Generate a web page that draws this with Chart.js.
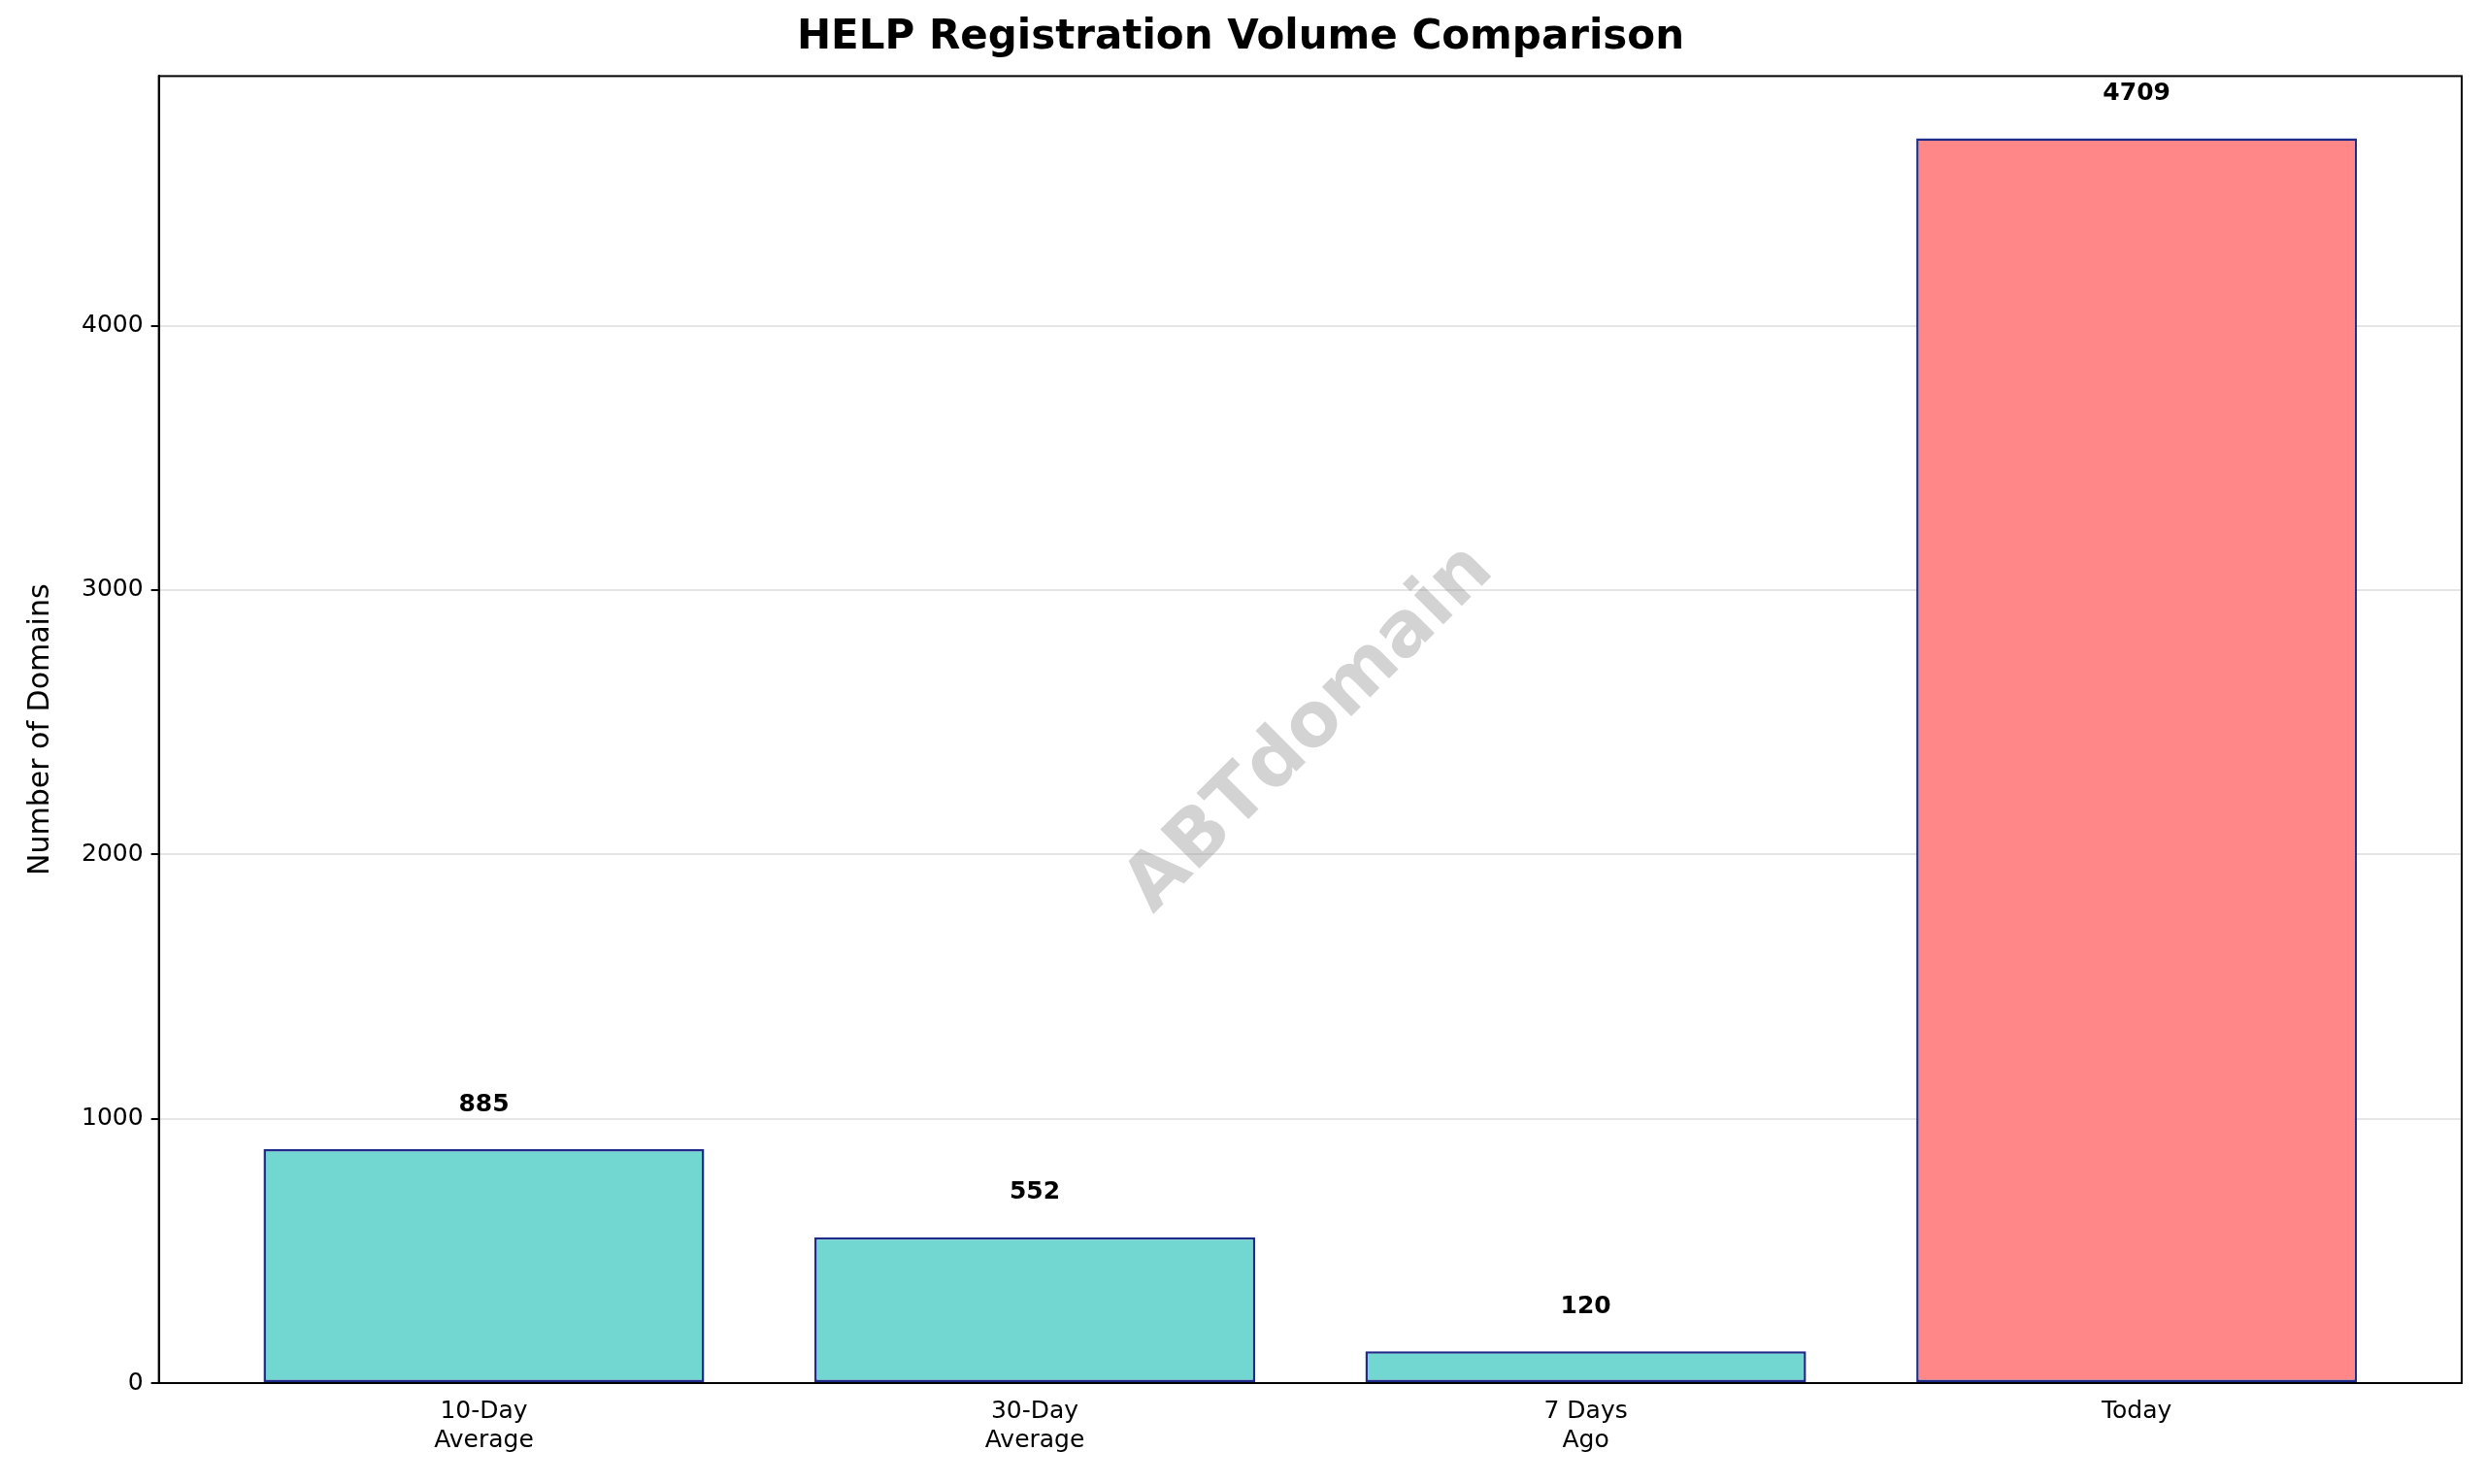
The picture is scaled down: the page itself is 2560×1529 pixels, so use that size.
<!DOCTYPE html>
<html>
<head>
<meta charset="utf-8">
<script src="https://cdn.jsdelivr.net/npm/chart.js@4"></script>
<style>
  body { margin: 0; background: #fff; }
  #wrap { width: 2560px; height: 1529px; }
</style>
</head>
<body>
<div id="wrap"><canvas id="c" width="2560" height="1529"></canvas></div>
<script>
const categories = [['10-Day', 'Average'], ['30-Day', 'Average'], ['7 Days', 'Ago'], ['Today']]
const values = [885, 552, 120, 4709]
const colors = ['#73d7d1', '#73d7d1', '#73d7d1', '#ff8787']
const yTicks = [0, 1000, 2000, 3000, 4000]

const FONT = 'DejaVu Sans'

// value labels above bars + watermark + frame
const extras = {
  id: 'extras',
  afterDatasetsDraw(chart) {
    const ctx = chart.ctx, a = chart.chartArea
    const xs = chart.scales.x, ys = chart.scales.y
    ctx.save()
    ctx.translate((a.left + a.right) / 2, (a.top + a.bottom) / 2)
    ctx.rotate(-Math.PI / 4)
    ctx.fillStyle = 'rgba(128,128,128,0.35)'
    ctx.font = 'bold 78px ' + FONT
    ctx.textAlign = 'center'
    ctx.textBaseline = 'middle'
    ctx.fillText('ABTdomain', 0, 0)
    ctx.restore()

    ctx.save()
    ctx.fillStyle = '#000'
    ctx.font = 'bold 25px ' + FONT
    ctx.textAlign = 'center'
    ctx.textBaseline = 'bottom'
    values.forEach((v, i) => {
      ctx.fillText(String(v), xs.getPixelForValue(i), ys.getPixelForValue(v + 100) - 6)
    })
    ctx.strokeStyle = '#000'
    ctx.lineWidth = 2
    ctx.strokeRect(a.left, a.top, a.right - a.left, a.bottom - a.top)
    ctx.restore()
  }
}

new Chart(document.getElementById('c'), {
  type: 'bar',
  data: {
    datasets: [{
      data: values.map((v, i) => ({ x: i, y: v })),
      backgroundColor: colors,
      borderColor: '#1f2a8a',
      borderWidth: 2.5,
      borderSkipped: false,
      barPercentage: 0.8,
      categoryPercentage: 1
    }]
  },
  plugins: [extras],
  options: {
    responsive: false,
    animation: false,
    devicePixelRatio: 1,
    layout: { padding: { left: 20, right: 24, top: 14, bottom: 24 } },
    plugins: {
      legend: { display: false },
      tooltip: { enabled: false },
      title: {
        display: true,
        text: 'HELP Registration Volume Comparison',
        color: '#000',
        font: { family: FONT, size: 42, weight: 'bold' },
        padding: { top: 0, bottom: 14 }
      }
    },
    scales: {
      x: {
        type: 'linear',
        offset: false,
        min: -0.59, max: 3.59,
        afterBuildTicks: s => { s.ticks = categories.map((c, i) => ({ value: i })) },
        ticks: {
          callback: v => categories[v],
          color: '#000',
          font: { family: FONT, size: 25 },
          maxRotation: 0,
          padding: 6
        },
        grid: { display: false, drawTicks: true, tickLength: 8, tickColor: '#000' },
        border: { color: '#000', width: 2 }
      },
      y: {
        min: 0, max: 4944,
        afterBuildTicks: s => { s.ticks = yTicks.map(v => ({ value: v })) },
        ticks: { callback: v => String(v), color: '#000', font: { family: FONT, size: 25 }, padding: 8 },
        grid: { color: 'rgba(0,0,0,0.1)', lineWidth: 2, tickLength: 8, tickColor: '#000' },
        border: { color: '#000', width: 2 },
        title: {
          display: true,
          text: 'Number of Domains',
          color: '#000',
          font: { family: FONT, size: 30 },
          padding: { bottom: 16 }
        }
      }
    }
  }
})
</script>
</body>
</html>
